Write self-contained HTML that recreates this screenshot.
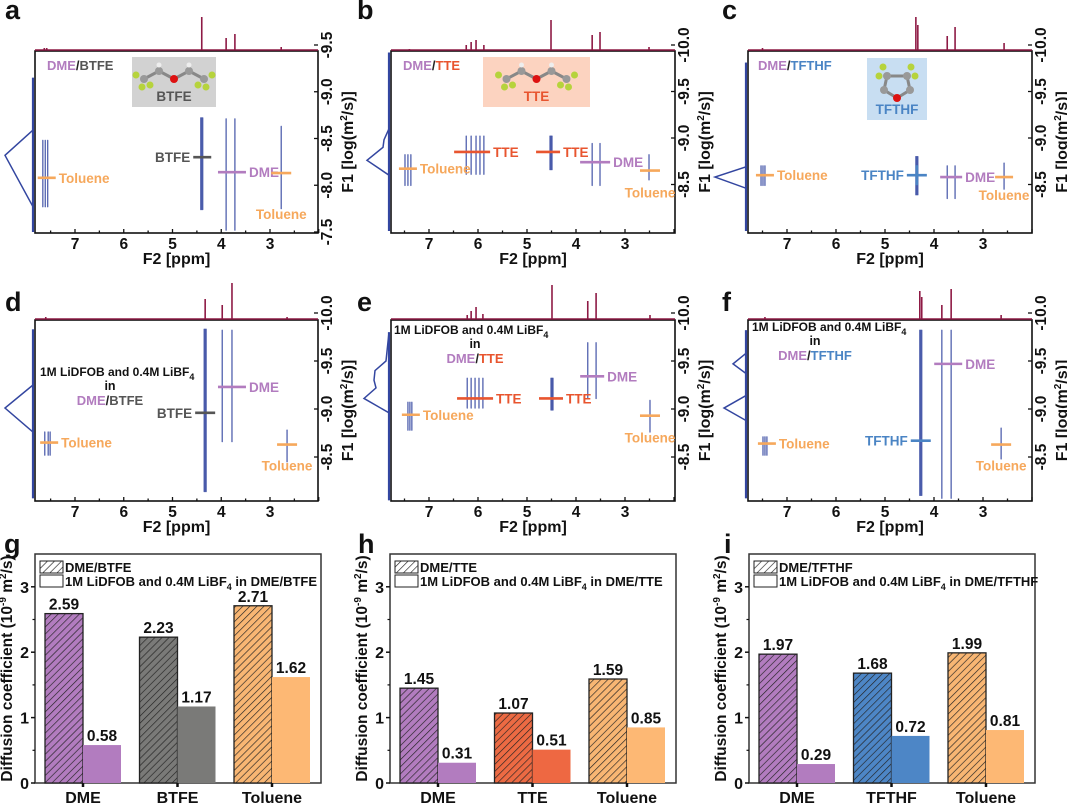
<!DOCTYPE html>
<html><head><meta charset="utf-8">
<style>
html,body{margin:0;padding:0;background:#fff;}
svg{display:block;font-family:"Liberation Sans",sans-serif;font-weight:bold;}
</style></head>
<body>
<svg id="fig" width="1067" height="811" viewBox="0 0 1067 811" xmlns="http://www.w3.org/2000/svg">
<defs>
<pattern id="h-purple" width="5" height="5" patternUnits="userSpaceOnUse" patternTransform="rotate(45)"><rect width="5" height="5" fill="#b27cbf"/><line x1="0" y1="0" x2="0" y2="5" stroke="#222" stroke-width="1.3"/></pattern>
<pattern id="h-gray" width="5" height="5" patternUnits="userSpaceOnUse" patternTransform="rotate(45)"><rect width="5" height="5" fill="#7a7a78"/><line x1="0" y1="0" x2="0" y2="5" stroke="#222" stroke-width="1.3"/></pattern>
<pattern id="h-orange" width="5" height="5" patternUnits="userSpaceOnUse" patternTransform="rotate(45)"><rect width="5" height="5" fill="#f8b673"/><line x1="0" y1="0" x2="0" y2="5" stroke="#222" stroke-width="1.3"/></pattern>
<pattern id="h-red" width="5" height="5" patternUnits="userSpaceOnUse" patternTransform="rotate(45)"><rect width="5" height="5" fill="#ec6a43"/><line x1="0" y1="0" x2="0" y2="5" stroke="#222" stroke-width="1.3"/></pattern>
<pattern id="h-blue" width="5" height="5" patternUnits="userSpaceOnUse" patternTransform="rotate(45)"><rect width="5" height="5" fill="#4d86c6"/><line x1="0" y1="0" x2="0" y2="5" stroke="#222" stroke-width="1.3"/></pattern>
<pattern id="h-white" width="5" height="5" patternUnits="userSpaceOnUse" patternTransform="rotate(45)"><rect width="5" height="5" fill="#fff"/><line x1="0" y1="0" x2="0" y2="5" stroke="#222" stroke-width="1.3"/></pattern>
</defs>
</svg>
<script>
// ===== Bar chart data =====
const yTicks = [0, 1, 2, 3];
const gCats = ['DME', 'BTFE', 'Toluene'];
const gPure = [2.59, 2.23, 2.71];
const gSalt = [0.58, 1.17, 1.62];
const hCats = ['DME', 'TTE', 'Toluene'];
const hPure = [1.45, 1.07, 1.59];
const hSalt = [0.31, 0.51, 0.85];
const iCats = ['DME', 'TFTHF', 'Toluene'];
const iPure = [1.97, 1.68, 1.99];
const iSalt = [0.29, 0.72, 0.81];

// ===== NMR data (ppm, log D) =====
const ppmTicks = [7, 6, 5, 4, 3];
const aSpecPpm = [7.63, 7.58, 4.4, 3.9, 3.72, 2.77];
const aSpecH = [2, 2, 33, 12, 16, 3];
const aPeakPpm = [7.66, 7.61, 7.56, 4.42, 4.40, 4.38, 3.9, 3.72, 2.77];
const aPeakLo = [-8.48, -8.48, -8.48, -8.72, -8.72, -8.72, -8.71, -8.71, -8.63];
const aPeakHi = [-7.77, -7.77, -7.77, -7.74, -7.74, -7.74, -7.52, -7.52, -7.75];
const aMarkLabel = ['Toluene', 'BTFE', 'DME', 'Toluene'];
const aMarkPpm = [7.58, 4.39, 3.78, 2.77];
const aMarkD = [-8.08, -8.30, -8.14, -8.13];
const aProjD = [-9.15, -8.59, -8.32, -7.77, -7.5];
const aProjI = [0, 0, 28, 0, 0];
const aYTicks = [-9.5, -9.0, -8.5, -8.0, -7.5];

const bSpecPpm = [7.4, 6.24, 6.14, 6.04, 5.88, 4.51, 3.67, 3.51, 2.51];
const bSpecH = [1, 5, 8, 10, 5, 30, 15, 18, 3];
const bPeakPpm = [7.49, 7.43, 7.37, 6.24, 6.14, 6.04, 5.96, 5.88, 4.53, 4.51, 4.49, 3.67, 3.51, 2.51];
const bPeakLo = [-8.82, -8.82, -8.82, -9.02, -9.02, -9.02, -9.02, -9.02, -9.02, -9.02, -9.02, -8.94, -8.94, -8.82];
const bPeakHi = [-8.49, -8.49, -8.49, -8.61, -8.61, -8.61, -8.61, -8.61, -8.66, -8.66, -8.66, -8.49, -8.49, -8.55];
const bMarkLabel = ['Toluene', 'TTE', 'TTE', 'DME', 'Toluene'];
const bMarkPpm = [7.43, 6.12, 4.57, 3.61, 2.49];
const bMarkD = [-8.67, -8.85, -8.85, -8.74, -8.65];
const bProjD = [-9.92, -9.1, -8.98, -8.9, -8.76, -8.6, -8.0];
const bProjI = [0, 0, 5, 6, 22, 0, 0];
const bcYTicks = [-10.0, -9.5, -9.0, -8.5];

const cSpecPpm = [7.5, 4.37, 4.33, 3.73, 3.57, 2.57];
const cSpecH = [2, 33, 25, 14, 23, 7];
const cPeakPpm = [7.53, 7.49, 7.45, 4.37, 4.35, 4.33, 3.73, 3.57, 2.57];
const cPeakLo = [-8.70, -8.70, -8.70, -8.80, -8.80, -8.80, -8.70, -8.70, -8.73];
const cPeakHi = [-8.49, -8.49, -8.49, -8.39, -8.39, -8.39, -8.35, -8.35, -8.45];
const cMarkLabel = ['Toluene', 'TFTHF', 'DME', 'Toluene'];
const cMarkPpm = [7.45, 4.35, 3.65, 2.57];
const cMarkD = [-8.60, -8.60, -8.58, -8.58];
const cProjD = [-9.81, -8.69, -8.58, -8.46, -8.0];
const cProjI = [0, 0, 31, 0, 0];

const dSpecPpm = [7.6, 4.33, 3.98, 3.78, 2.65];
const dSpecH = [2, 20, 14, 36, 2];
const dPeakPpm = [7.62, 7.55, 7.51, 4.35, 4.33, 4.31, 3.98, 3.78, 2.65];
const dPeakLo = [-8.76, -8.76, -8.76, -9.83, -9.83, -9.83, -9.82, -9.82, -8.78];
const dPeakHi = [-8.52, -8.52, -8.52, -8.14, -8.14, -8.14, -8.66, -8.66, -8.45];
const dMarkLabel = ['Toluene', 'BTFE', 'DME', 'Toluene'];
const dMarkPpm = [7.53, 4.33, 3.78, 2.65];
const dMarkD = [-8.65, -8.96, -9.23, -8.63];
const dProjD = [-9.83, -9.25, -9.01, -8.76, -8.07];
const dProjI = [0, 0, 28, 0, 0];
const defYTicks = [-10.0, -9.5, -9.0, -8.5];

const eSpecPpm = [6.22, 6.14, 6.04, 5.90, 4.49, 3.76, 3.59, 2.49];
const eSpecH = [4, 8, 12, 5, 34, 18, 26, 4];
const ePeakPpm = [7.43, 7.39, 7.35, 6.22, 6.14, 6.06, 5.98, 5.90, 4.51, 4.49, 4.47, 3.76, 3.59, 2.49];
const ePeakLo = [-9.07, -9.07, -9.07, -9.32, -9.32, -9.32, -9.32, -9.32, -9.32, -9.32, -9.32, -9.69, -9.69, -9.09];
const ePeakHi = [-8.78, -8.78, -8.78, -9.01, -9.01, -9.01, -9.01, -9.01, -8.99, -8.99, -8.99, -9.11, -9.11, -8.76];
const eMarkLabel = ['Toluene', 'TTE', 'TTE', 'DME', 'Toluene'];
const eMarkPpm = [7.37, 6.06, 4.51, 3.67, 2.49];
const eMarkD = [-8.94, -9.11, -9.11, -9.34, -8.93];
const eProjD = [-9.8, -9.5, -9.40, -9.30, -9.22, -9.11, -8.96, -8.05];
const eProjI = [0, 3, 14, 15, 13, 25, 0, 0];

const fSpecPpm = [7.45, 4.29, 4.25, 3.84, 3.65, 2.63];
const fSpecH = [2, 28, 22, 14, 30, 4];
const fPeakPpm = [7.49, 7.45, 7.41, 4.29, 4.27, 4.25, 3.84, 3.65, 2.63];
const fPeakLo = [-8.71, -8.71, -8.71, -9.82, -9.82, -9.82, -9.82, -9.82, -8.80];
const fPeakHi = [-8.52, -8.52, -8.52, -8.10, -8.10, -8.10, -8.07, -8.07, -8.48];
const fMarkLabel = ['Toluene', 'TFTHF', 'DME', 'Toluene'];
const fMarkPpm = [7.41, 4.27, 3.71, 2.63];
const fMarkD = [-8.64, -8.67, -9.47, -8.63];
const fProjD = [-9.82, -9.58, -9.47, -9.37, -9.14, -9.01, -8.88, -8.07];
const fProjI = [0, 0, 13, 0, 0, 22, 0, 0];

// ===== helpers =====
const NS = 'http://www.w3.org/2000/svg';
const svg = document.getElementById('fig');
function mk(tag, a, parent) {
  const e = document.createElementNS(NS, tag);
  for (const k in a) e.setAttribute(k, a[k]);
  (parent || svg).appendChild(e);
  return e;
}
function tx(x, y, s, a, parent) {
  const e = mk('text', Object.assign({x: x, y: y}, a || {}), parent);
  e.textContent = s;
  return e;
}
const COL = {purple: '#b27cbf', gray: '#555555', orange: '#f6a85c', red: '#e8552f', blue: '#4a84c4', navy: '#3346a0', spec: '#8e1a45'};

function panelLetter(x, y, s) {
  const t = tx(x, y, s, {'font-size': 27, fill: '#111'});
  
  
}

// ===== NMR panel =====
function drawNMR(o) {
  const g = mk('g', {});
  
  
  const X = p => o.x7 + (7 - p) * o.ppx;
  const Y = v => o.yRef + (v - o.vRef) * o.vpx;
  const box = mk('rect', {x: o.L, y: o.T, width: o.R - o.L, height: o.B - o.T, fill: 'none', stroke: '#111', 'stroke-width': 1.6}, g);
  
  
  const base = o.T - 1;
  const sl = mk('line', {x1: o.L, y1: base, x2: o.R, y2: base, stroke: COL.spec, 'stroke-width': 1.5}, g);
  
  
  o.specPpm.forEach((p, i) => {
    const pk = mk('line', {x1: X(p), y1: base, x2: X(p), y2: base - o.specH[i], stroke: COL.spec, 'stroke-width': 1.6}, g);
    
    
  });
  const px = o.L - 2;
  let d = 'M' + px + ' ' + Y(o.projD[0]);
  o.projD.forEach((v, i) => { d += ' L' + (px - o.projI[i]) + ' ' + Y(v); });
  const pr = mk('path', {d: d, fill: 'none', stroke: COL.navy, 'stroke-width': 1.5}, g);
  
  
  const pl = mk('line', {x1: px, y1: Y(o.projD[0]), x2: px, y2: Y(o.projD[o.projD.length - 1]), stroke: COL.navy, 'stroke-width': 2.2}, g);
  
  
  o.peakPpm.forEach((p, i) => {
    const c = mk('line', {x1: X(p), y1: Y(o.peakLo[i]), x2: X(p), y2: Y(o.peakHi[i]), stroke: COL.navy, 'stroke-width': 1.3, 'stroke-linecap': 'round', opacity: 0.85}, g);
    
    
  });
  o.markLabel.forEach((lab, i) => {
    const st = o.markStyle[i];
    const cx = X(o.markPpm[i]), cy = Y(o.markD[i]);
    const m = mk('line', {x1: cx - st.hw, y1: cy, x2: cx + st.hw, y2: cy, stroke: st.c, 'stroke-width': 2.6}, g);
    
    
    if (st.v) {
      const mv = mk('line', {x1: cx, y1: cy - 10, x2: cx, y2: cy + 10, stroke: st.c, 'stroke-width': 2.6}, g);
      
      
    }
    let t;
    if (st.pos === 'r') t = tx(cx + st.hw + 3, cy + 5, lab, {'font-size': 13.5, fill: st.c}, g);
    else if (st.pos === 'l') t = tx(cx - st.hw - 3, cy + 5, lab, {'font-size': 13.5, fill: st.c, 'text-anchor': 'end'}, g);
    else t = tx(cx, cy + st.dy, lab, {'font-size': 13.5, fill: st.c, 'text-anchor': 'middle'}, g);
    
    
  });
  for (let p = 7.5; p >= 2.0; p -= 0.5) {
    const major = Math.abs(p - Math.round(p)) < 0.01;
    const tk = mk('line', {x1: X(p), y1: o.B, x2: X(p), y2: o.B - (major ? 4 : 2.5), stroke: '#111', 'stroke-width': 1.3}, g);
    
    
  }
  ppmTicks.forEach(p => {
    const t = tx(X(p), o.B + 16, String(p), {'font-size': 15.5, fill: '#111', 'text-anchor': 'middle'}, g);
    
    
  });
  const xt = tx((o.L + o.R) / 2, o.B + 31, 'F2 [ppm]', {'font-size': 16, fill: '#111', 'text-anchor': 'middle'}, g);
  
  
  o.yTicks.forEach(v => {
    const tk = mk('line', {x1: o.R, y1: Y(v), x2: o.R - 4, y2: Y(v), stroke: '#111', 'stroke-width': 1.3}, g);
    
    
    const t = tx(0, 0, v.toFixed(1), {'font-size': 15.5, fill: '#111', 'text-anchor': 'middle', transform: 'translate(' + (o.R + 14) + ',' + Y(v) + ') rotate(-90)'}, g);
    
    
  });
  const yt = mk('text', {x: 0, y: 0, 'font-size': 16, fill: '#111', 'text-anchor': 'middle', transform: 'translate(' + (o.R + 35) + ',' + ((o.T + o.B) / 2) + ') rotate(-90)'}, g);
  yt.innerHTML = 'F1 [log(m<tspan font-size="10" dy="-6">2</tspan><tspan dy="6">/s)]</tspan>';
  
  
  return g;
}

function rich(x, y, parts, a) {
  const t = mk('text', Object.assign({x: x, y: y, 'font-size': 13}, a || {}));
  parts.forEach(pp => {
    const s = mk('tspan', pp[1] ? {fill: pp[1]} : {}, t);
    if (pp[2]) { s.setAttribute('font-size', 9); s.setAttribute('dy', 4); }
    s.textContent = pp[0];
  });
  return t;
}

function molecule(x, y, w, h, fill, name, color, kind) {
  const g = mk('g', {});
  
  
  mk('rect', {x: x, y: y, width: w, height: h, fill: fill}, g);
  const cx = x + w / 2;
  if (kind === 'chain') {
    const pts = [[cx - 30, y + 22], [cx - 15, y + 14], [cx, y + 22], [cx + 15, y + 14], [cx + 30, y + 22]];
    mk('polyline', {points: pts.map(p => p.join(',')).join(' '), fill: 'none', stroke: '#888', 'stroke-width': 3}, g);
    pts.forEach((p, i) => mk('circle', {cx: p[0], cy: p[1], r: 4, fill: i === 2 ? '#d11' : '#999'}, g));
    [[cx - 38, y + 18], [cx - 32, y + 30], [cx - 24, y + 28], [cx + 38, y + 18], [cx + 32, y + 30], [cx + 24, y + 28]].forEach(p => mk('circle', {cx: p[0], cy: p[1], r: 3.5, fill: '#b6d33c'}, g));
    [[cx - 15, y + 8], [cx + 15, y + 8]].forEach(p => mk('circle', {cx: p[0], cy: p[1], r: 2.5, fill: '#eee'}, g));
  } else {
    const pts = [[cx - 10, y + 18], [cx + 10, y + 18], [cx + 13, y + 32], [cx, y + 40], [cx - 13, y + 32]];
    mk('polygon', {points: pts.map(p => p.join(',')).join(' '), fill: 'none', stroke: '#888', 'stroke-width': 3}, g);
    pts.forEach((p, i) => mk('circle', {cx: p[0], cy: p[1], r: 4, fill: i === 3 ? '#d11' : '#999'}, g));
    [[cx - 14, y + 9], [cx - 18, y + 18], [cx + 14, y + 9], [cx + 18, y + 18]].forEach(p => mk('circle', {cx: p[0], cy: p[1], r: 3.5, fill: '#b6d33c'}, g));
  }
  const t = tx(cx, y + h - 6, name, {'font-size': 13.5, fill: color, 'text-anchor': 'middle'}, g);
  
  
}

const topA = {T: 51, B: 233, yRef: 45, vRef: -9.5, vpx: 93.5};
const topBC = {T: 51, B: 233, yRef: 45, vRef: -10, vpx: 93};
const midRow = {T: 320, B: 501, yRef: 313, vRef: -10, vpx: 96};
const colA = {L: 35, R: 318, x7: 75, ppx: 48.75};
const colB = {L: 391, R: 675, x7: 429, ppx: 49};
const colC = {L: 748, R: 1032, x7: 787, ppx: 49};

drawNMR(Object.assign({id: 'a', specPpm: aSpecPpm, specH: aSpecH, peakPpm: aPeakPpm, peakLo: aPeakLo, peakHi: aPeakHi,
  markLabel: aMarkLabel, markPpm: aMarkPpm, markD: aMarkD, projD: aProjD, projI: aProjI, yTicks: aYTicks,
  markStyle: [{hw: 9, c: COL.orange, pos: 'r'}, {hw: 9, c: COL.gray, pos: 'l'}, {hw: 14, c: COL.purple, pos: 'r'}, {hw: 10, c: COL.orange, pos: 'b', dy: 46}]}, colA, topA));
drawNMR(Object.assign({id: 'b', specPpm: bSpecPpm, specH: bSpecH, peakPpm: bPeakPpm, peakLo: bPeakLo, peakHi: bPeakHi,
  markLabel: bMarkLabel, markPpm: bMarkPpm, markD: bMarkD, projD: bProjD, projI: bProjI, yTicks: bcYTicks,
  markStyle: [{hw: 9, c: COL.orange, pos: 'r'}, {hw: 18, c: COL.red, pos: 'r'}, {hw: 12, c: COL.red, pos: 'r'}, {hw: 15, c: COL.purple, pos: 'r'}, {hw: 10, c: COL.orange, pos: 'b', dy: 27}]}, colB, topBC));
drawNMR(Object.assign({id: 'c', specPpm: cSpecPpm, specH: cSpecH, peakPpm: cPeakPpm, peakLo: cPeakLo, peakHi: cPeakHi,
  markLabel: cMarkLabel, markPpm: cMarkPpm, markD: cMarkD, projD: cProjD, projI: cProjI, yTicks: bcYTicks,
  markStyle: [{hw: 9, c: COL.orange, pos: 'r'}, {hw: 10, c: COL.blue, pos: 'l', v: true}, {hw: 11, c: COL.purple, pos: 'r'}, {hw: 9, c: COL.orange, pos: 'b', dy: 23}]}, colC, topBC));
drawNMR(Object.assign({id: 'd', specPpm: dSpecPpm, specH: dSpecH, peakPpm: dPeakPpm, peakLo: dPeakLo, peakHi: dPeakHi,
  markLabel: dMarkLabel, markPpm: dMarkPpm, markD: dMarkD, projD: dProjD, projI: dProjI, yTicks: defYTicks,
  markStyle: [{hw: 9, c: COL.orange, pos: 'r'}, {hw: 10, c: COL.gray, pos: 'l'}, {hw: 14, c: COL.purple, pos: 'r'}, {hw: 10, c: COL.orange, pos: 'b', dy: 26}]}, colA, midRow));
drawNMR(Object.assign({id: 'e', specPpm: eSpecPpm, specH: eSpecH, peakPpm: ePeakPpm, peakLo: ePeakLo, peakHi: ePeakHi,
  markLabel: eMarkLabel, markPpm: eMarkPpm, markD: eMarkD, projD: eProjD, projI: eProjI, yTicks: defYTicks,
  markStyle: [{hw: 9, c: COL.orange, pos: 'r'}, {hw: 18, c: COL.red, pos: 'r'}, {hw: 12, c: COL.red, pos: 'r'}, {hw: 12, c: COL.purple, pos: 'r'}, {hw: 10, c: COL.orange, pos: 'b', dy: 27}]}, colB, midRow));
drawNMR(Object.assign({id: 'f', specPpm: fSpecPpm, specH: fSpecH, peakPpm: fPeakPpm, peakLo: fPeakLo, peakHi: fPeakHi,
  markLabel: fMarkLabel, markPpm: fMarkPpm, markD: fMarkD, projD: fProjD, projI: fProjI, yTicks: defYTicks,
  markStyle: [{hw: 9, c: COL.orange, pos: 'r'}, {hw: 10, c: COL.blue, pos: 'l'}, {hw: 14, c: COL.purple, pos: 'r'}, {hw: 10, c: COL.orange, pos: 'b', dy: 26}]}, colC, midRow));

let h;
h = rich(47, 70, [['DME', COL.purple], ['/', '#222'], ['BTFE', COL.gray]]);


h = rich(403, 70, [['DME', COL.purple], ['/', '#222'], ['TTE', COL.red]]);


h = rich(758, 70, [['DME', COL.purple], ['/', '#222'], ['TFTHF', COL.blue]]);


molecule(132, 57, 84, 50, '#d2d2d2', 'BTFE', COL.gray, 'chain');
molecule(483, 57, 107, 50, '#fcd3c0', 'TTE', COL.red, 'chain');
molecule(867, 58, 60, 62, '#c8def2', 'TFTHF', COL.blue, 'ring');

function saltHeader(x, y, cx, sysParts, id) {
  h = rich(x, y, [['1M LiDFOB and 0.4M LiBF', '#111'], ['4', '#111', true]], {'font-size': 12});
  
  
  h = tx(cx, y + 14, 'in', {'font-size': 12.5, fill: '#111', 'text-anchor': 'middle'});
  
  
  h = rich(cx, y + 29, sysParts, {'text-anchor': 'middle'});
  
  
}
saltHeader(40, 376, 110, [['DME', COL.purple], ['/', '#222'], ['BTFE', COL.gray]], 'd');
saltHeader(394, 334, 475, [['DME', COL.purple], ['/', '#222'], ['TTE', COL.red]], 'e');
saltHeader(752, 331, 815, [['DME', COL.purple], ['/', '#222'], ['TFTHF', COL.blue]], 'f');

// ===== Bar charts =====
function drawBars(id, L, cats, pure, salt, hatch, solid, sysName) {
  const g = mk('g', {});
  
  
  const T = 554, B = 783, R = L + 286;
  const Y = v => B - v * 65.4;
  const Xc = i => L + 48 + i * 94.5;
  const bw = 38;
  const fr = mk('rect', {x: L, y: T, width: R - L, height: B - T, fill: 'none', stroke: '#333', 'stroke-width': 1.5}, g);
  
  
  cats.forEach((c, i) => {
    const x = Xc(i);
    const b1 = mk('rect', {x: x - bw, y: Y(pure[i]), width: bw, height: Y(0) - Y(pure[i]), fill: 'url(#h-' + hatch[i] + ')', stroke: '#222', 'stroke-width': 1.3}, g);
    
    
    const b2 = mk('rect', {x: x, y: Y(salt[i]), width: bw, height: Y(0) - Y(salt[i]), fill: solid[i]}, g);
    
    
    const v1 = tx(x - bw / 2, Y(pure[i]) - 4, pure[i].toFixed(2), {'font-size': 15.5, fill: '#111', 'text-anchor': 'middle'}, g);
    
    
    const v2 = tx(x + bw / 2, Y(salt[i]) - 4, salt[i].toFixed(2), {'font-size': 15.5, fill: '#111', 'text-anchor': 'middle'}, g);
    
    
    const tk = mk('line', {x1: x, y1: B, x2: x, y2: B + 4, stroke: '#111', 'stroke-width': 2.5}, g);
    
    
    const cl = tx(x, B + 20, c, {'font-size': 16, fill: '#111', 'text-anchor': 'middle'}, g);
    
    
  });
  for (let v = 0.5; v < 3.5; v += 1) {
    const mt = mk('line', {x1: L, y1: Y(v), x2: L - 2.5, y2: Y(v), stroke: '#111', 'stroke-width': 1.2}, g);
    
    
  }
  yTicks.forEach(v => {
    const tk = mk('line', {x1: L, y1: Y(v), x2: L - 4, y2: Y(v), stroke: '#111', 'stroke-width': 1.5}, g);
    
    
    const t = tx(L - 6, Y(v) + 6, String(v), {'font-size': 16, fill: '#111', 'text-anchor': 'end'}, g);
    
    
  });
  const yt = mk('text', {x: 0, y: 0, 'font-size': 15.5, fill: '#111', 'text-anchor': 'middle', transform: 'translate(' + (L - 23) + ',' + ((T + B) / 2) + ') rotate(-90)'}, g);
  yt.innerHTML = 'Diffusion coefficient (10<tspan font-size="10" dy="-6">-9</tspan><tspan dy="6"> m</tspan><tspan font-size="10" dy="-6">2</tspan><tspan dy="6">/s)</tspan>';
  
  
  const lg = mk('g', {}, g);
  
  
  const s1 = mk('rect', {x: L + 5, y: T + 7, width: 23, height: 12, fill: 'url(#h-white)', stroke: '#222', 'stroke-width': 1}, lg);
  
  
  const l1 = tx(L + 30, T + 18, sysName, {'font-size': 13, fill: '#111'}, lg);
  
  
  const s2 = mk('rect', {x: L + 5, y: T + 21, width: 23, height: 12, fill: '#fff', stroke: '#222', 'stroke-width': 1}, lg);
  
  
  const l2 = mk('text', {x: L + 30, y: T + 32, 'font-size': 13, fill: '#111'}, lg);
  l2.innerHTML = '1M LiDFOB and 0.4M LiBF<tspan font-size="9" dy="4">4</tspan><tspan dy="-4"> in ' + sysName + '</tspan>';
  
  
}
drawBars('g', 35, gCats, gPure, gSalt, ['purple', 'gray', 'orange'], ['#b27cbf', '#7a7a78', '#fdb874'], 'DME/BTFE');
drawBars('h', 390, hCats, hPure, hSalt, ['purple', 'red', 'orange'], ['#b27cbf', '#ee6842', '#fdb874'], 'DME/TTE');
drawBars('i', 749, iCats, iPure, iSalt, ['purple', 'blue', 'orange'], ['#b27cbf', '#4d86c6', '#fdb874'], 'DME/TFTHF');

panelLetter(5, 19, 'a'); panelLetter(357, 19, 'b'); panelLetter(722, 19, 'c');
panelLetter(5, 311, 'd'); panelLetter(357, 311, 'e'); panelLetter(722, 311, 'f');
panelLetter(4, 553, 'g'); panelLetter(358, 553, 'h'); panelLetter(724, 553, 'i');
</script>
</body></html>
